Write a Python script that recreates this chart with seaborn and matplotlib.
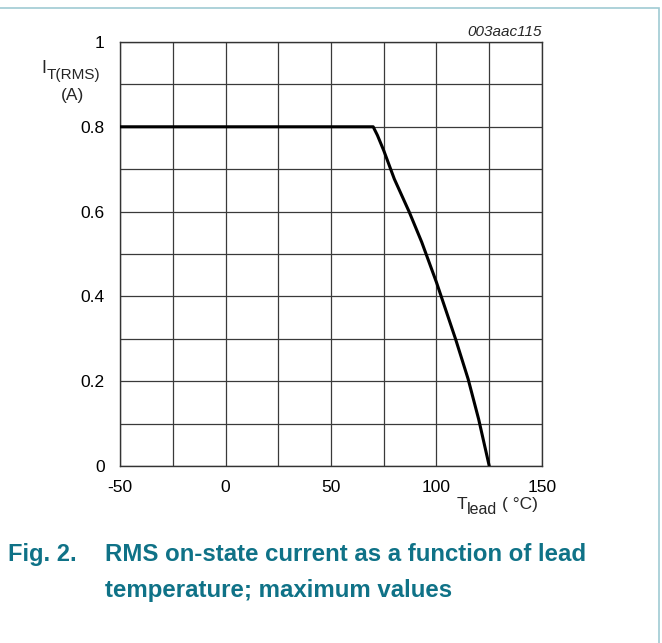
import matplotlib
matplotlib.use("Agg")
import matplotlib.pyplot as plt
import numpy as np
import pandas as pd
import seaborn as sns

# Curve (T_lead in degC, I_T(RMS) in A)
t_lead = [-50, 70, 72, 75, 80, 87, 93, 100, 109, 115, 120, 125]
i_rms = [0.8, 0.8, 0.78, 0.744, 0.677, 0.6, 0.528, 0.433, 0.30, 0.205, 0.11, 0.0]

x_ticks = [-50, 0, 50, 100, 150]
x_tick_labels = ["-50", "0", "50", "100", "150"]
y_ticks = [0, 0.2, 0.4, 0.6, 0.8, 1]
y_tick_labels = ["0", "0.2", "0.4", "0.6", "0.8", "1"]

sns.set_style("white")
plt.rcParams["font.family"] = ["Liberation Sans", "DejaVu Sans"]

df = pd.DataFrame({"t": t_lead, "i": i_rms})

fig = plt.figure(figsize=(6.62, 6.43), dpi=100)
ax = fig.add_axes([0.1813, 0.2753, 0.6374, 0.6594])

sns.lineplot(data=df, x="t", y="i", ax=ax, color="black", linewidth=2.2,
             sort=False, zorder=5)

ax.set_xlim(-50, 150)
ax.set_ylim(0, 1)
ax.set_xticks(x_ticks)
ax.set_xticklabels(x_tick_labels)
ax.set_xticks(np.arange(-50, 151, 25), minor=True)
ax.set_yticks(y_ticks)
ax.set_yticklabels(y_tick_labels)
ax.set_yticks(np.arange(0, 1.01, 0.1), minor=True)
ax.grid(which="both", color="#3a3a3a", linewidth=0.9)
ax.tick_params(which="both", length=0, labelsize=12.5, colors="black")
ax.tick_params(axis="y", pad=11)
ax.tick_params(axis="x", pad=10)
for s in ax.spines.values():
    s.set_color("#333333")
    s.set_linewidth(1.0)
ax.set_xlabel("")
ax.set_ylabel("")

# y axis label: I with T(RMS) subscript, then unit
fig.text(0.063, 0.893, "I", fontsize=13, ha="left", va="center")
fig.text(0.071, 0.883, "T(RMS)", fontsize=11, ha="left", va="center")
fig.text(0.110, 0.852, "(A)", fontsize=12.5, ha="center", va="center")
# x axis label
fig.text(0.690, 0.216, "T", fontsize=12.5, ha="left", va="center")
fig.text(0.705, 0.207, "lead", fontsize=11.5, ha="left", va="center")
fig.text(0.759, 0.216, "( °C)", fontsize=12.5, ha="left", va="center")
fig.text(0.818, 0.950, "003aac115", fontsize=11, style="italic", ha="right", va="center")

teal = "#0f7287"
fig.text(0.012, 0.137, "Fig. 2.", fontsize=17, fontweight="bold", color=teal, va="center")
fig.text(0.158, 0.137, "RMS on-state current as a function of lead", fontsize=17.3,
         fontweight="bold", color=teal, va="center")
fig.text(0.158, 0.082, "temperature; maximum values", fontsize=17.3,
         fontweight="bold", color=teal, va="center")

# light teal frame around the figure
fig.add_artist(plt.Rectangle((-0.01, -0.01), 1.006, 0.997, transform=fig.transFigure,
                             fill=False, edgecolor="#9fcbd3", linewidth=1.2))

fig.savefig("out.png", dpi=100)
